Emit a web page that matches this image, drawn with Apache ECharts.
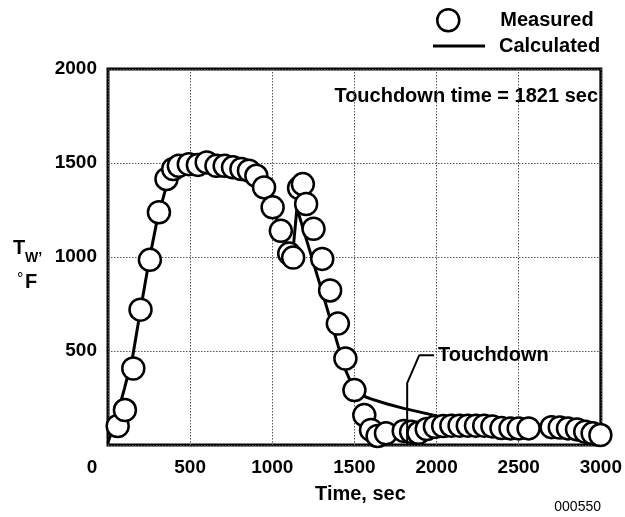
<!DOCTYPE html>
<html><head><meta charset="utf-8">
<script src="https://cdn.jsdelivr.net/npm/echarts@6/dist/echarts.min.js"></script>
<style>html,body{margin:0;padding:0;background:#fff}#c{width:625px;height:517px}</style>
</head><body><div id="c"></div>
<script>
// Measured wall temperature (circles)
const measuredTime = [59,103,154,198,255,310,356,397,431,492,547,601,660,710,761,812,858,903,950,1002,1052,1103,1127,1163,1186,1206,1251,1304,1352,1399,1445,1500,1560,1601,1641,1692,1800,1845,1890,1940,1990,2040,2090,2140,2190,2240,2290,2340,2395,2450,2500,2560,2700,2750,2800,2855,2905,2950,2997];
const measuredTemp = [101,186,407,720,985,1238,1415,1468,1485,1494,1490,1503,1485,1485,1477,1468,1459,1432,1370,1264,1139,1018,997,1367,1388,1282,1150,990,822,646,460,292,159,80,48,62,75,70,65,85,97,101,103,103,103,103,103,99,90,88,88,88,95,93,88,83,71,62,53];
// Calculated wall temperature (line)
const calcTime = [0,40,100,150,200,250,300,350,400,450,500,600,700,800,880,950,1000,1050,1100,1125,1150,1200,1300,1400,1450,1500,1550,1600,1700,1800,1900,2000,2100,2200,2400,2600,2800,3000];
const calcTemp = [15,110,300,470,730,980,1200,1360,1440,1475,1488,1495,1488,1470,1430,1345,1260,1150,1040,1025,1260,1115,825,530,390,290,262,245,218,195,175,155,140,128,110,95,82,70];
// Touchdown leader line
const leaderTime = [1821,1821,1894,1985];
const leaderTemp = [0,329,477,477];
// Axes
const xMin = 0, xMax = 3000, xStep = 500;
const yMin = 0, yMax = 2000, yStep = 500;

const FF = '"Liberation Sans", Arial, Helvetica, sans-serif';
const zip = (a, b) => a.map((v, i) => [v, b[i]]);
const legText = pad => ({fontSize: 20, fontWeight: 'bold', color: '#000', fontFamily: FF, lineHeight: 24,
  rich: {n: {fontSize: 20, fontWeight: 'bold', color: '#000', fontFamily: FF, lineHeight: 24, padding: [0,0,0,pad]}}});

const chart = echarts.init(document.getElementById('c'), null, {renderer: 'canvas'});
chart.setOption({
  animation: false,
  backgroundColor: '#fff',
  grid: {left: 108, right: 23, top: 69, bottom: 72, show: true, borderColor: '#000', borderWidth: 3, backgroundColor: 'transparent'},
  legend: [
    {data: [{name: 'Measured', icon: 'circle'}], left: 436, top: 8, padding: 0,
     itemWidth: 22, itemHeight: 22,
     itemStyle: {color: '#fff', borderColor: '#000', borderWidth: 2.5},
     formatter: n => '{n|' + n + '}',
     textStyle: legText(36)},
    {data: [{name: 'Calculated', icon: 'rect'}], left: 433, top: 34, padding: 0,
     itemWidth: 52, itemHeight: 3,
     itemStyle: {color: '#000', borderWidth: 0},
     formatter: n => '{n|' + n + '}',
     textStyle: legText(9)}
  ],
  xAxis: {
    type: 'value', min: xMin, max: xMax, interval: xStep,
    name: 'Time, sec', nameLocation: 'middle', nameGap: 39,
    nameTextStyle: {fontSize: 20, fontWeight: 'bold', color: '#000', fontFamily: FF, padding: [0,0,0,12]},
    axisLine: {show: false}, axisTick: {show: false},
    axisLabel: {fontSize: 19, fontWeight: 'bold', color: '#000', fontFamily: FF, margin: 13,
      formatter: v => v === 0 ? '{o|0}' : String(v),
      rich: {o: {fontSize: 19, fontWeight: 'bold', color: '#000', fontFamily: FF, padding: [0,32,0,0]}}},
    splitLine: {show: true, lineStyle: {type: [1.5, 1.5], color: '#555', width: 1}}
  },
  yAxis: {
    type: 'value', min: yMin, max: yMax, interval: yStep,
    axisLine: {show: false}, axisTick: {show: false},
    axisLabel: {fontSize: 19, fontWeight: 'bold', color: '#000', fontFamily: FF, margin: 11,
      formatter: v => v === 0 ? '' : String(v)},
    splitLine: {show: true, lineStyle: {type: [1.5, 1.5], color: '#555', width: 1}}
  },
  series: [
    {name: 'Calculated', type: 'line', data: zip(calcTime, calcTemp), symbol: 'none', z: 2,
     lineStyle: {color: '#000', width: 3}, itemStyle: {color: '#000'}},
    {name: 'Measured', type: 'scatter', data: zip(measuredTime, measuredTemp), symbol: 'circle', symbolSize: 22, z: 3,
     clip: false,
     itemStyle: {color: '#fff', borderColor: '#000', borderWidth: 2.5, opacity: 1}},
    {name: 'leader', type: 'line', data: zip(leaderTime, leaderTemp), symbol: 'none', z: 4, silent: true,
     lineStyle: {color: '#000', width: 2},
     endLabel: {show: true, formatter: 'Touchdown', fontSize: 20, fontWeight: 'bold', color: '#000', fontFamily: FF, distance: 4}}
  ],
  graphic: [
    {type: 'text', right: 27, top: 86, style: {text: 'Touchdown time = 1821 sec', fontSize: 20, fontWeight: 'bold', fill: '#000', fontFamily: FF}},
    {type: 'text', left: 13, top: 238, style: {text: 'T', fontSize: 20, fontWeight: 'bold', fill: '#000', fontFamily: FF}},
    {type: 'text', left: 25, top: 251, style: {text: 'W\u2019', fontSize: 14, fontWeight: 'bold', fill: '#000', fontFamily: FF}},
    {type: 'text', left: 17, top: 272, style: {text: '\u00B0', fontSize: 16, fill: '#000', fontFamily: FF}},
    {type: 'text', left: 25, top: 272, style: {text: 'F', fontSize: 20, fontWeight: 'bold', fill: '#000', fontFamily: FF}},
    {type: 'text', right: 24, top: 500, style: {text: '000550', fontSize: 14, fill: '#000', fontFamily: FF}}
  ]
});
</script>
</body></html>
